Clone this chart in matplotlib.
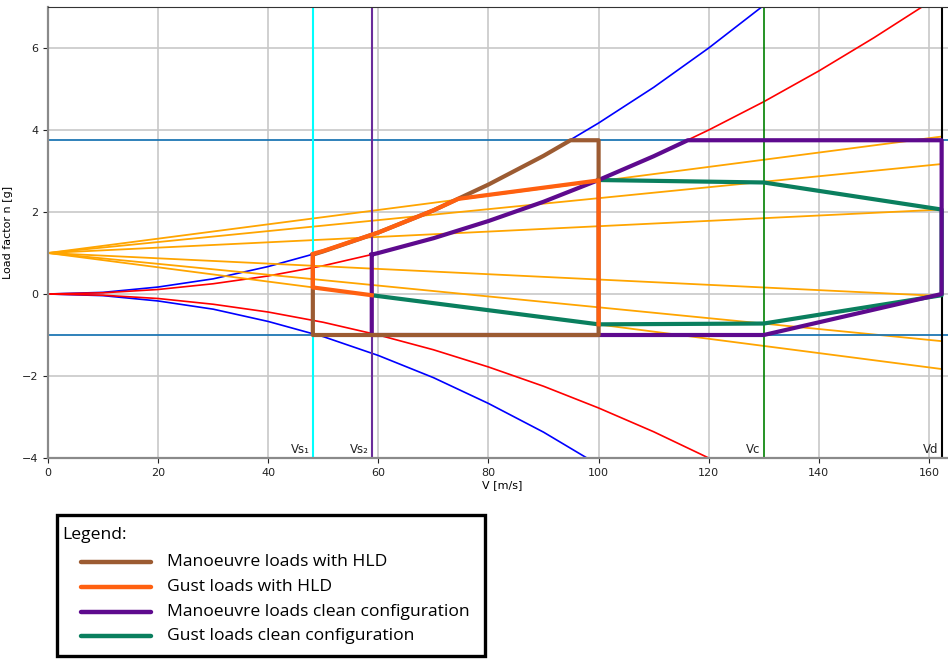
import matplotlib
matplotlib.use("Agg")
import matplotlib.pyplot as plt
from matplotlib.lines import Line2D
from matplotlib.patches import Rectangle

# ---------------- data ----------------
Vs1, Vs2, Vc, Vd = 48.1, 58.8, 130.0, 162.3
n_max, n_min = 3.75, -1.0

# stall curves (blue: with HLD, red: clean)
blue_v = [0, 10, 20, 30, 40, 50, 60, 70, 80, 90, 100, 110, 120, 130]
blue_pos = [0, 0.04, 0.17, 0.37, 0.67, 1.04, 1.50, 2.04, 2.67, 3.37, 4.17, 5.04, 6.00, 7.04]
blue_neg_v = [0, 10, 20, 30, 40, 50, 60, 70, 80, 90, 100]
blue_neg = [0, -0.04, -0.17, -0.37, -0.67, -1.04, -1.50, -2.04, -2.67, -3.37, -4.17]
red_v = [0, 10, 20, 30, 40, 50, 60, 70, 80, 90, 100, 110, 120, 130, 140, 150, 160]
red_pos = [0, 0.03, 0.11, 0.25, 0.44, 0.69, 1.00, 1.36, 1.78, 2.25, 2.78, 3.36, 4.00, 4.69, 5.44, 6.25, 7.11]
red_neg_v = [0, 10, 20, 30, 40, 50, 60, 70, 80, 90, 100, 110, 120]
red_neg = [0, -0.03, -0.11, -0.25, -0.44, -0.69, -1.00, -1.36, -1.78, -2.25, -2.78, -3.36, -4.00]

# gust lines from (0, 1) to Vd
gust_end = [3.84, 3.17, 2.06, -0.05, -1.15, -1.83]

# envelopes
man_hld_v = [48.1, 50, 60, 70, 80, 90, 94.9, 100, 100, 48.1, 48.1]
man_hld_n = [0.96, 1.04, 1.50, 2.04, 2.67, 3.37, 3.75, 3.75, -1.0, -1.0, 0.96]

gust_hld_v = [58.8, 48.1, 48.1, 50, 60, 70, 74.5, 100, 100]
gust_hld_n = [-0.03, 0.16, 0.98, 1.05, 1.50, 2.04, 2.32, 2.77, -0.74]

man_clean_v = [58.8, 60, 70, 80, 90, 100, 110, 116.2, 162.3, 162.3, 130, 58.8, 58.8]
man_clean_n = [0.96, 1.00, 1.36, 1.78, 2.25, 2.78, 3.36, 3.75, 3.75, 0.0, -1.0, -1.0, 0.96]

gust_clean_v = [100, 130, 162.3, 162.3, 130, 100, 58.8]
gust_clean_n = [2.78, 2.72, 2.06, -0.03, -0.72, -0.74, -0.03]

labels = ["Manoeuvre loads with HLD", "Gust loads with HLD",
          "Manoeuvre loads clean configuration", "Gust loads clean configuration"]

# ---------------- styles ----------------
c_brown = "#9c5b32"
c_orange = "#ff6010"
c_purple = "#5e0a8e"
c_green = "#0a7f5e"

W, H = 948, 659
fig = plt.figure(figsize=(W / 100, H / 100), dpi=100)
ax = fig.add_axes([48 / W, 201 / H, 908.5 / W, 451 / H])
ax.set_xlim(0, 165)
ax.set_ylim(-4, 7)
ax.set_xticks(range(0, 161, 20))
ax.set_yticks(range(-4, 7, 2))
ax.grid(True, color="#c8c8c8", lw=1.2, zorder=0)
ax.set_axisbelow(True)
ax.tick_params(labelsize=8, colors="#222222")
for s in ["left", "bottom"]:
    ax.spines[s].set_color("#8a8a8a")
    ax.spines[s].set_linewidth(1.6)
ax.spines["top"].set_color("#333333")
ax.spines["right"].set_visible(False)
ax.set_xlabel("V [m/s]", fontsize=8, labelpad=2)
ax.set_ylabel("Load factor n [g]", fontsize=8, labelpad=6)

# stall curves
ax.plot(blue_v, blue_pos, color="blue", lw=1.2, zorder=2)
ax.plot(blue_neg_v, blue_neg, color="blue", lw=1.2, zorder=2)
ax.plot(red_v, red_pos, color="red", lw=1.2, zorder=2)
ax.plot(red_neg_v, red_neg, color="red", lw=1.2, zorder=2)

# gust lines
for ge in gust_end:
    ax.plot([0, Vd], [1, ge], color="orange", lw=1.3, zorder=2)

# limit lines
ax.axhline(n_max, color="tab:blue", lw=1.3, zorder=2)
ax.axhline(n_min, color="tab:blue", lw=1.3, zorder=2)
ax.axvline(Vs1, color="cyan", lw=1.5, zorder=2)
ax.axvline(Vs2, color="#6a2c9a", lw=1.5, zorder=2)
ax.axvline(Vc, color="green", lw=1.2, zorder=2)
ax.axvline(Vd, color="black", lw=1.5, zorder=2)

for v, t in [(Vs1, "Vs\u2081"), (Vs2, "Vs\u2082"), (Vc, "Vc"), (Vd, "Vd")]:
    ax.text(v - 0.6, -3.96, t, ha="right", va="bottom", fontsize=8.5, color="#222222")

# envelopes
ax.plot(gust_clean_v, gust_clean_n, color=c_green, lw=3, zorder=3)
ax.plot(man_clean_v, man_clean_n, color=c_purple, lw=3, zorder=4)
ax.plot(man_hld_v, man_hld_n, color=c_brown, lw=3, zorder=5)
ax.plot(gust_hld_v, gust_hld_n, color=c_orange, lw=3, zorder=6)

# ---------------- legend box (figure pixel coordinates, top origin) ----------------
def fx(px):
    return px / W

def fy(py):
    return 1 - py / H

fig.patches.append(Rectangle((fx(57), fy(656)), fx(485) - fx(57), fy(515) - fy(656),
                             transform=fig.transFigure, fill=True, facecolor="white",
                             edgecolor="black", lw=2.4, zorder=10))
lfont = {"family": "Open Sans", "size": 12.6}
fig.text(fx(62), fy(535), "Legend:", ha="left", va="center", zorder=11, **lfont)
row_y = [562, 587, 612, 636]
for c, lab, yy in zip((c_brown, c_orange, c_purple, c_green), labels, row_y):
    fig.add_artist(Line2D([fx(81), fx(151)], [fy(yy), fy(yy)], color=c, lw=3.2,
                          solid_capstyle="round", transform=fig.transFigure, zorder=11))
    fig.text(fx(167), fy(yy), lab, ha="left", va="center", zorder=11, **lfont)

fig.savefig("out.png", dpi=100)
